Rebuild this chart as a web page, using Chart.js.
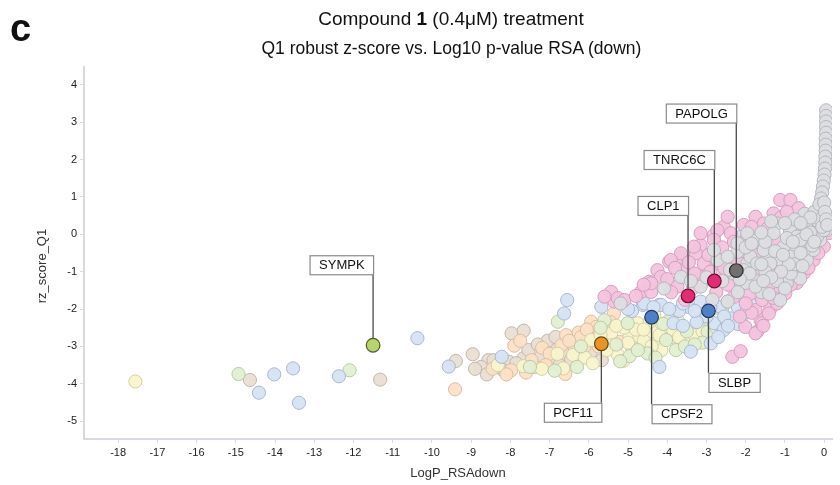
<!DOCTYPE html>
<html>
<head>
<meta charset="utf-8">
<script src="https://cdn.jsdelivr.net/npm/chart.js@4.4.1/dist/chart.umd.min.js"></script>
<style>
  body { margin: 0; background: #fff; }
  #wrap { position: relative; width: 840px; height: 485px; font-family: "Liberation Sans", Arial, sans-serif; }
  #panel { position: absolute; left: 10px; top: 6px; font-size: 38px; line-height: 44px; font-weight: bold; color: #111; }
  #title { position: absolute; left: 151px; width: 600px; top: 4px; text-align: center; font-size: 19px; line-height: 29px; color: #111; }
  #title .l2 { display: inline-block; transform: scaleX(0.92); }
</style>
</head>
<body>
<div id="wrap">
  <canvas id="chart" width="840" height="485"></canvas>
  <div id="panel">c</div>
  <div id="title">Compound <b>1</b> (0.4μM) treatment<br><span class="l2">Q1 robust z-score vs. Log10 p-value RSA (down)</span></div>
</div>
<script>
// labelled genes
const geneNames = ["SYMPK", "PCF11", "CPSF2", "SLBP", "CLP1", "TNRC6C", "PAPOLG"];
const geneX = [-11.5, -5.68, -4.4, -2.95, -3.47, -2.8, -2.24];
const geneY = [-2.97, -2.93, -2.22, -2.05, -1.65, -1.25, -0.97];

const xTicks = [-18, -17, -16, -15, -14, -13, -12, -11, -10, -9, -8, -7, -6, -5, -4, -3, -2, -1, 0];
const yTicks = [-5, -4, -3, -2, -1, 0, 1, 2, 3, 4];

const tanPts = [
  [-14.64, -3.90], [-11.32, -3.89], [-9.39, -3.39], [-8.96, -3.21], [-8.56, -3.37], [-8.43, -3.37],
  [-7.97, -2.65], [-7.66, -2.58], [-8.05, -3.41], [-8.18, -3.64], [-7.67, -3.32], [-7.54, -3.10],
  [-7.36, -3.55], [-6.93, -3.05], [-6.95, -3.37], [-6.61, -3.23], [-5.67, -3.37], [-7.2, -3.25],
  [-8.3, -3.55], [-6.75, -3.5], [-7.05, -2.85], [-6.45, -3.35], [-5.95, -3.15], [-8.75, -3.55],
  [-8.6, -3.75], [-7.85, -3.45], [-7.3, -2.95], [-6.85, -2.75], [-6.3, -3.15], [-5.85, -2.75],
  [-8.9, -3.6]
];
const peachPts = [
  [-9.41, -4.15], [-7.90, -2.98], [-7.98, -3.64], [-7.46, -3.37], [-7.19, -3.04], [-6.70, -2.97],
  [-6.60, -3.74], [-6.58, -2.70], [-6.26, -2.63], [-6.36, -3.01], [-6.11, -3.01], [-5.94, -2.34],
  [-5.81, -2.48], [-5.36, -2.12], [-5.22, -2.88], [-7.75, -2.85], [-7.0, -3.2], [-6.2, -2.75],
  [-5.55, -2.55], [-8.1, -3.75], [-8.45, -3.6], [-7.6, -3.7], [-7.1, -3.5], [-6.5, -2.85],
  [-5.75, -3.0], [-5.45, -2.35], [-6.05, -2.55]
];
const yellowPts = [
  [-17.56, -3.94], [-8.32, -3.50], [-7.67, -3.53], [-6.65, -3.59], [-6.40, -3.23], [-5.94, -2.83],
  [-5.43, -2.65], [-5.43, -2.97], [-5.26, -3.23], [-5.12, -3.39], [-4.96, -2.74], [-4.76, -2.38],
  [-4.71, -2.74], [-4.59, -3.01], [-4.25, -2.92], [-4.03, -2.52], [-3.74, -2.30], [-3.48, -2.83],
  [-4.33, -2.16], [-5.7, -2.7], [-5.1, -2.5], [-4.9, -3.05], [-4.4, -2.6], [-3.9, -2.75],
  [-3.6, -2.55], [-3.2, -2.45], [-2.8, -2.3], [-6.1, -3.3], [-4.6, -2.85], [-3.3, -2.7],
  [-5.55, -3.1], [-4.15, -3.1], [-4.8, -2.55], [-4.45, -2.35], [-7.2, -3.6], [-6.8, -3.2],
  [-5.9, -3.45], [-5.3, -2.45], [-4.6, -2.55], [-4.2, -2.7], [-3.85, -2.55], [-3.1, -2.6],
  [-2.9, -2.5], [-5.0, -2.9], [-4.4, -3.0], [-3.7, -2.75]
];
const greenPts = [
  [-14.93, -3.74], [-12.10, -3.64], [-6.87, -3.65], [-6.79, -2.34], [-5.60, -2.30], [-4.96, -3.26],
  [-5.01, -2.38], [-4.50, -3.19], [-4.03, -2.83], [-3.78, -3.10], [-2.97, -2.61], [-3.55, -3.0],
  [-4.3, -3.3], [-3.1, -2.9], [-5.3, -2.95], [-3.95, -2.3], [-2.6, -2.0], [-6.3, -3.55],
  [-7.5, -3.55], [-6.2, -3.0], [-5.2, -3.4], [-4.75, -3.1], [-4.1, -2.4], [-3.5, -2.6],
  [-3.3, -2.95], [-2.75, -2.5], [-5.7, -2.5]
];
const bluePts = [
  [-14.02, -3.75], [-14.41, -4.24], [-13.54, -3.59], [-13.39, -4.51], [-12.37, -3.80], [-10.37, -2.78],
  [-9.57, -3.54], [-8.22, -3.28], [-6.63, -2.12], [-6.55, -1.76], [-3.84, -2.38], [-3.40, -3.14],
  [-4.20, -3.55], [-4.62, -1.89], [-4.20, -1.89], [-5.68, -1.94], [-3.48, -1.94], [-4.59, -1.85],
  [-4.16, -1.89], [-3.15, -1.80], [-2.64, -1.94], [-2.38, -2.25], [-2.81, -2.38], [-2.89, -2.92],
  [-2.56, -2.56], [-2.46, -1.80], [-2.11, -0.06], [-3.0, -2.2], [-2.2, -1.95], [-3.7, -2.05],
  [-4.9, -2.05], [-2.0, -2.1], [-1.8, -1.9], [-2.7, -2.75], [-3.25, -2.35], [-5.0, -2.0],
  [-4.35, -1.95], [-3.95, -2.0], [-3.6, -1.85], [-3.3, -2.05], [-2.9, -1.95], [-2.55, -2.2],
  [-2.2, -2.4], [-3.6, -2.45], [-2.45, -2.45]
];
const pinkPts = [
  [-5.35, -1.80], [-5.43, -1.54], [-5.60, -1.67], [-5.26, -1.71], [-5.09, -1.76], [-4.46, -1.27],
  [-4.25, -0.96], [-4.67, -1.54], [-4.41, -1.54], [-3.65, -0.60], [-3.95, -0.73], [-3.57, -0.96],
  [-3.74, -1.40], [-3.15, -0.29], [-3.27, -0.51], [-2.81, -0.02], [-2.56, 0.20], [-3.07, -0.78],
  [-3.10, -1.27], [-2.34, -3.28], [-2.13, -3.13], [-2.30, -1.67], [-2.01, -2.48], [-1.71, -2.61],
  [-1.62, -2.30], [-1.75, -2.03], [-1.37, -1.98], [-1.58, -1.76], [-1.54, -1.45], [-1.20, -1.54],
  [-0.78, -0.96], [-1.12, -1.09], [-1.62, -0.38], [-1.96, -0.06], [-2.13, -1.36], [-0.99, -0.33],
  [-1.37, -0.06], [-2.34, -0.87], [-1.12, 0.92], [-2.46, 0.47], [-2.72, 0.11], [-3.15, 0.03],
  [-3.32, -0.33], [-3.65, -0.51], [-3.91, -0.69], [-4.16, -1.14], [-4.41, -1.31], [-1.75, 0.47],
  [-1.54, 0.29], [-1.29, 0.56], [-0.86, 0.92], [-0.65, 0.70], [-2.72, -0.78], [-3.15, -1.14],
  [-2.56, -1.14], [-2.81, -0.15], [-2.38, 0.03], [-1.75, -2.65], [-1.58, -2.38], [-1.41, -2.12],
  [-1.20, -1.85], [-0.99, -1.58], [-0.52, -1.04], [-0.27, -0.69], [-0.01, -0.33], [0.11, 0.03],
  [-4.0, -1.2], [-3.8, -0.9], [-3.45, -0.75], [-3.3, -1.05], [-2.95, -0.55], [-2.6, -0.35],
  [-2.3, -0.2], [-2.05, 0.25], [-1.85, 0.2], [-1.6, -0.1], [-1.45, 0.15], [-1.1, 0.45],
  [-0.95, 0.6], [-0.45, 0.45], [-2.9, -1.0], [-2.45, -1.35], [-1.9, -1.6], [-1.65, -1.1],
  [-1.4, -1.35], [-1.3, -0.95], [-0.95, -0.95], [-0.7, -1.3], [-1.85, -2.1], [-1.55, -2.45],
  [-2.15, -2.2], [-2.0, -1.85], [-1.3, -1.7], [-0.85, -1.35], [-0.4, -0.9], [-0.15, -0.5],
  [-2.55, -0.9], [-3.35, -1.45], [-3.9, -1.55], [-4.8, -1.65], [-4.6, -1.35], [-2.2, -0.7],
  [-1.75, -0.55], [-1.2, -0.2], [-0.55, 0.1], [-3.55, -1.75], [-2.75, -1.55], [-2.1, -0.45],
  [-0.3, 0.3]
];
const grayPts = [
  [-5.19, -1.85], [-4.08, -1.45], [-3.65, -1.14], [-2.72, -0.69], [-3.15, -1.40], [-1.12, -1.76],
  [-0.95, -1.31], [-0.61, -1.18], [-0.44, -0.69], [-0.27, -0.42], [-0.10, -0.15], [0.06, 0.11],
  [-0.27, 0.11], [-0.78, -0.33], [-1.45, -0.60], [-2.21, -0.47], [-1.96, -0.78], [-1.79, -1.22],
  [-1.12, -0.69], [-0.69, -0.64], [-0.78, 0.16], [-1.20, 0.29], [-2.46, -1.80], [-0.18, 0.65],
  [-0.44, 0.29], [-0.87, 0.11], [-0.69, -0.06], [-1.29, 0.03], [-1.03, -0.33], [-1.96, 0.03],
  [-1.71, -0.15], [-2.21, -0.24], [-1.54, -0.42], [-1.88, -0.60], [-2.46, -0.60], [-2.81, -0.42],
  [-2.05, -0.96], [-1.71, -0.78], [-1.37, -0.78], [-0.86, -0.60], [-0.52, -0.42], [-0.18, -0.06],
  [-0.01, 0.11], [-2.6, -1.25], [-2.3, -1.05], [-2.0, -1.3], [-1.5, -1.0], [-1.2, -1.25],
  [-0.85, -1.05], [-0.4, -0.2], [-0.6, -0.15], [-0.95, -0.1], [-1.5, -0.2], [-1.25, -0.45],
  [-0.35, 0.05], [-0.15, 0.35], [-0.5, 0.55], [-0.75, 0.4], [-1.0, 0.3], [-2.0, -0.35],
  [-3.4, -1.25], [-3.0, -1.15], [-2.85, -1.75], [-2.2, -1.55], [-1.6, -1.55], [-1.4, -1.6],
  [-1.75, -1.4], [-1.0, -1.45], [-0.75, -0.8], [-0.55, -0.85], [-0.25, 0.6], [-0.1, 0.4],
  [-0.3, -0.3], [-0.6, -0.5], [-0.9, -0.8], [-1.1, -1.0], [-1.9, -1.05], [-1.6, -0.8],
  [-1.35, -1.15], [-1.05, -0.55], [-0.8, -0.2], [-0.45, 0.0], [-0.25, -0.2], [-0.05, 0.2],
  [-0.35, 0.45], [-0.6, 0.3], [-1.35, 0.35], [-1.6, 0.05], [-1.85, -0.25], [-2.4, -0.95],
  [-2.15, -1.2], [-1.55, -1.25],
  [0.05, 3.32], [0.05, 3.17], [0.05, 3.02], [0.05, 2.87], [0.05, 2.72], [0.04, 2.56],
  [0.04, 2.4], [0.04, 2.24], [0.03, 2.08], [0.03, 1.92], [0.02, 1.76], [0.01, 1.6],
  [-0.01, 1.44], [-0.03, 1.28], [-0.05, 1.12], [-0.08, 0.96], [-0.12, 0.8], [0.0, 0.85],
  [0.02, 0.6], [0.05, 0.4], [0.08, 0.25]
];

const geneFill = ["#b6d66b", "#ec9423", "#4f7fc4", "#4f7fc4", "#e42a74", "#e42a74", "#707070"];
const geneEdge = ["#4b5b26", "#6b4512", "#22385e", "#22385e", "#6b1133", "#6b1133", "#2f2f2f"];

// where each label box sits relative to its dot
const labelPlace = {
  SYMPK:  { side: "left",  dy: -71 },
  PCF11:  { side: "left",  dy: 59 },
  CPSF2:  { side: "right", dy: 87 },
  SLBP:   { side: "right", dy: 62 },
  CLP1:   { side: "left",  dy: -81 },
  TNRC6C: { side: "left",  dy: -112 },
  PAPOLG: { side: "left",  dy: -148 }
};

function toXY(pts) {
  return pts.map(p => ({ x: p[0], y: p[1] }));
}

function bgSet(pts, fill, edge) {
  return {
    data: toXY(pts),
    backgroundColor: fill,
    borderColor: edge,
    borderWidth: 1,
    pointRadius: 6.6,
    pointHoverRadius: 6.6
  };
}

const geneLabels = {
  id: "geneLabels",
  afterDatasetsDraw(chart) {
    const meta = chart.getDatasetMeta(0);
    const ctx = chart.ctx;
    ctx.save();
    ctx.font = "13px 'Liberation Sans', Arial, sans-serif";
    ctx.textBaseline = "middle";
    ctx.textAlign = "center";
    geneNames.forEach((name, i) => {
      const pt = meta.data[i];
      const place = labelPlace[name];
      const w = ctx.measureText(name).width + 18;
      const h = 19;
      const left = place.side === "left" ? pt.x - w : pt.x;
      const top = place.dy < 0 ? pt.y + place.dy - h : pt.y + place.dy;
      const edgeY = place.dy < 0 ? top + h : top;
      ctx.strokeStyle = "#4a4a4a";
      ctx.lineWidth = 1.3;
      ctx.beginPath();
      ctx.moveTo(pt.x, edgeY);
      ctx.lineTo(pt.x, pt.y + (place.dy < 0 ? -7 : 7));
      ctx.stroke();
      ctx.fillStyle = "#fff";
      ctx.fillRect(left, top, w, h);
      ctx.strokeStyle = "#8a8a8a";
      ctx.lineWidth = 1.2;
      ctx.strokeRect(left + 0.5, top + 0.5, w, h);
      ctx.fillStyle = "#111";
      ctx.fillText(name, left + w / 2 + 0.5, top + h / 2 + 1);
    });
    // y axis title, set a little below the middle as in the source figure
    ctx.translate(42, 266);
    ctx.rotate(-Math.PI / 2);
    ctx.font = "13px 'Liberation Sans', Arial, sans-serif";
    ctx.fillStyle = "#333";
    ctx.fillText("rz_score_Q1", 0, 0);
    ctx.restore();
  }
};

const axisColor = "#d6d9df";
const tickFont = { family: "'Liberation Sans', Arial, sans-serif", size: 11 };
const titleFont = { family: "'Liberation Sans', Arial, sans-serif", size: 13 };

new Chart(document.getElementById("chart"), {
  type: "scatter",
  data: {
    datasets: [
      {
        data: geneX.map((x, i) => ({ x, y: geneY[i] })),
        backgroundColor: geneFill,
        borderColor: geneEdge,
        borderWidth: 1.2,
        pointRadius: 6.8,
        pointHoverRadius: 6.8
      },
      bgSet(grayPts, "rgba(221,222,225,0.95)", "#b5b6bb"),
      bgSet(pinkPts, "rgba(243,196,222,0.95)", "#d59dbf"),
      bgSet(bluePts, "rgba(214,227,243,0.95)", "#a9b8cf"),
      bgSet(greenPts, "rgba(227,239,209,0.95)", "#bccaa6"),
      bgSet(yellowPts, "rgba(248,244,205,0.95)", "#d4cfa4"),
      bgSet(peachPts, "rgba(251,224,197,0.95)", "#d9bea2"),
      bgSet(tanPts, "rgba(233,222,212,0.95)", "#c3b6ab")
    ]
  },
  options: {
    responsive: false,
    animation: false,
    events: [],
    layout: { padding: { top: 67, right: 5, left: 0, bottom: 0 } },
    plugins: { legend: { display: false }, tooltip: { enabled: false } },
    scales: {
      x: {
        type: "linear",
        min: -18.87,
        max: 0.2,
        afterFit: s => { s.height = 46; },
        afterBuildTicks: s => { s.ticks = xTicks.map(v => ({ value: v })); },
        ticks: { font: tickFont, color: "#222", padding: 3 },
        grid: { drawOnChartArea: false, drawTicks: true, tickLength: 4, color: axisColor },
        border: { color: axisColor, width: 2 },
        title: { display: true, text: "LogP_RSAdown", font: titleFont, color: "#333", padding: { top: 0, bottom: 4 } }
      },
      y: {
        type: "linear",
        min: -5.48,
        max: 4.48,
        afterFit: s => { s.width = 84; },
        afterBuildTicks: s => { s.ticks = yTicks.map(v => ({ value: v })); },
        ticks: { font: tickFont, color: "#222", padding: 3 },
        grid: { drawOnChartArea: false, drawTicks: true, tickLength: 4, color: axisColor },
        border: { color: axisColor, width: 2 }
      }
    }
  },
  plugins: [geneLabels]
});
</script>
</body>
</html>
